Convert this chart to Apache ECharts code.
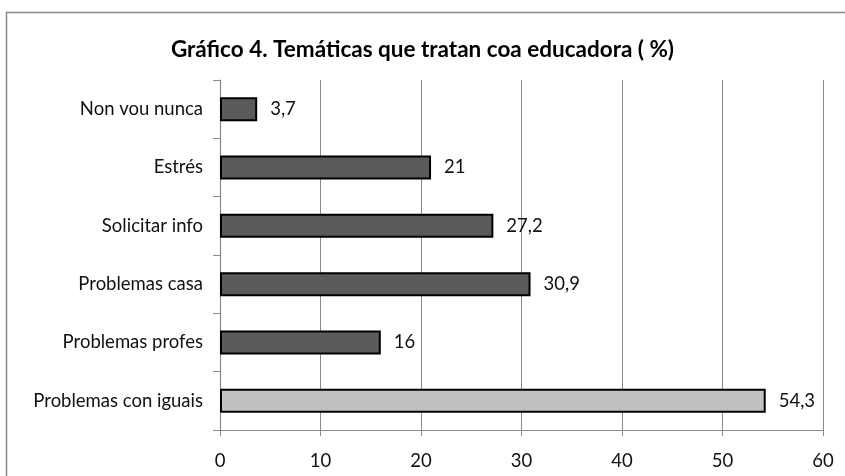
<!DOCTYPE html>
<html><head><meta charset="utf-8">
<script src="https://cdn.jsdelivr.net/npm/echarts@6/dist/echarts.min.js"></script>
<style>html,body{margin:0;padding:0;background:#fff}#c{width:845px;height:476px}</style>
</head><body><div id="c"></div>
<script>
var categories = ['Problemas con iguais','Problemas profes','Problemas casa','Solicitar info','Estrés','Non vou nunca'];
var values = [54.3, 16, 30.9, 27.2, 21, 3.7];
var highlightIndex = 0;
var xTicks = [0,10,20,30,40,50,60];
var FONT = 'Lato';
var chart = echarts.init(document.getElementById('c'));
chart.setOption({
  animation:false,
  title:{text:'Gráfico 4. Temáticas que tratan coa educadora ( %)',left:'center',top:33,
    textStyle:{fontFamily:FONT,fontWeight:'bold',fontSize:22.5,color:'#000'}},
  graphic:[{type:'rect',shape:{x:6.5,y:12.5,width:900,height:600},style:{fill:'none',stroke:'#8a8a8a',lineWidth:1.5},silent:true}],
  grid:{left:220,right:22,top:80,bottom:46},
  xAxis:{type:'value',min:0,max:60,interval:10,
    axisLine:{show:true,lineStyle:{color:'#8a8a8a',width:1.2}},
    axisTick:{show:true,length:6,lineStyle:{color:'#8a8a8a'}},
    splitLine:{show:true,lineStyle:{color:'#8a8a8a',width:1}},
    axisLabel:{fontFamily:FONT,fontSize:18.5,color:'#111',margin:22,
      formatter:function(v){return xTicks.indexOf(v)>=0?String(v):'';}}},
  yAxis:{type:'category',data:categories,
    axisLine:{show:true,lineStyle:{color:'#8a8a8a',width:1.2}},
    axisTick:{show:true,length:7,lineStyle:{color:'#8a8a8a'}},
    axisLabel:{fontFamily:FONT,fontSize:18.5,color:'#111',margin:17}},
  series:[{type:'bar',barWidth:24,
    data:values.map(function(v,i){return {value:v,itemStyle:{color:i===highlightIndex?'#c0c0c0':'#5a5a5a'}};}),
    itemStyle:{borderColor:'#000',borderWidth:2},
    label:{show:true,position:'right',distance:13,fontFamily:FONT,fontSize:18.5,color:'#111',
      formatter:function(p){return String(p.value).replace('.',',');}}}]
});
</script></body></html>
